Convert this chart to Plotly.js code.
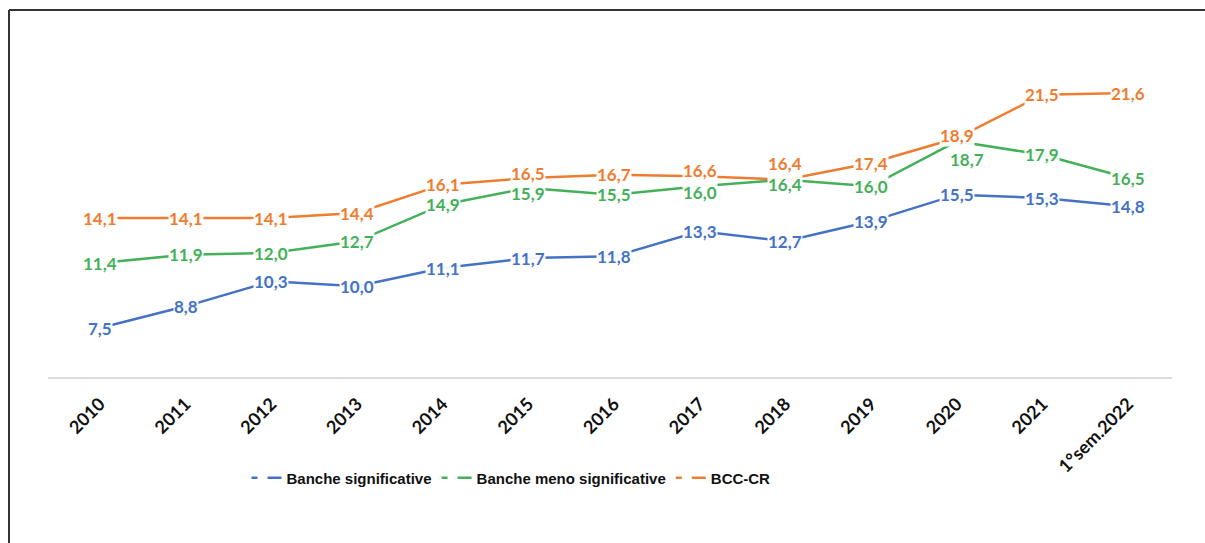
<!DOCTYPE html>
<html>
<head>
<meta charset="utf-8">
<script src="https://cdn.plot.ly/plotly-3.0.1.min.js"></script>
<style>
html,body{margin:0;padding:0;background:#fff;}
#chart{width:1205px;height:543px;}
</style>
</head>
<body>
<div id="chart"></div>
<script>
// ---- data ----
const categories = ["2010","2011","2012","2013","2014","2015","2016","2017","2018","2019","2020","2021","1°sem.2022"];
const seriesNames = ["Banche significative","Banche meno significative","BCC-CR"];
const bancheSignificative = [7.5, 8.8, 10.3, 10.0, 11.1, 11.7, 11.8, 13.3, 12.7, 13.9, 15.5, 15.3, 14.8];
const bancheMenoSignificative = [11.4, 11.9, 12.0, 12.7, 14.9, 15.9, 15.5, 16.0, 16.4, 16.0, 18.7, 17.9, 16.5];
const bccCr = [14.1, 14.1, 14.1, 14.4, 16.1, 16.5, 16.7, 16.6, 16.4, 17.4, 18.9, 21.5, 21.6];

// ---- styles ----
const colors = ["#4472C4", "#45B05A", "#ED7D31"];
const seriesValues = [bancheSignificative, bancheMenoSignificative, bccCr];
// label nudges (px) for crowded labels: [seriesIndex, categoryIndex, xshift, yshift]
const labelNudges = [
  [2, 5, 0, 5], [1, 5, 0, -5],
  [2, 7, 0, 6], [1, 7, 0, -6],
  [2, 8, 0, 16], [1, 8, 0, -5],
  [2, 10, 0, 3], [1, 10, 10, -18]
];

const W = 1205, H = 543;
const M = {l: 57, r: 34, t: 53, b: 165};
const pw = W - M.l - M.r, ph = H - M.t - M.b;
const px = x => (x - M.l) / pw;
const py = y => (H - M.b - y) / ph;

const fmt = v => v.toFixed(1).replace(".", ",");

const traces = [];
seriesValues.forEach((vals, s) => {
  traces.push({
    type: "scatter", mode: "lines",
    x: categories, y: vals,
    line: {color: colors[s], width: 2.5},
    showlegend: false, hoverinfo: "skip"
  });
});
// legend entries
seriesNames.forEach((name, s) => {
  traces.push({
    type: "scatter", mode: "lines", name: name,
    x: [null], y: [null],
    line: {color: colors[s], width: 2.5, dash: "6px,10px,14px"},
    showlegend: true
  });
});

const annotations = [];
seriesValues.forEach((vals, s) => {
  vals.forEach((v, i) => {
    let xs = 0, ys = 0;
    labelNudges.forEach(n => { if (n[0] === s && n[1] === i) { xs = n[2]; ys = n[3]; } });
    annotations.push({
      x: i, y: v, xref: "x", yref: "y",   // category index on the category axis
      text: fmt(v), showarrow: false,
      bgcolor: "rgba(255,255,255,0.92)", borderpad: 0,
      xshift: xs, yshift: ys,
      font: {family: "Lato, 'Open Sans', sans-serif", size: 17, color: colors[s], weight: "bold"}
    });
  });
});

const shapes = [
  // frame (top and left border)
  {type: "line", xref: "paper", yref: "paper", x0: px(9), x1: px(W + 5), y0: py(10), y1: py(10), line: {color: "#333", width: 2}},
  {type: "line", xref: "paper", yref: "paper", x0: px(9), x1: px(9), y0: py(10), y1: py(H + 5), line: {color: "#333", width: 2}},
  // category axis line
  {type: "line", xref: "paper", yref: "paper", x0: px(48), x1: px(1172), y0: 0, y1: 0, line: {color: "#dcd9d6", width: 2}, layer: "below"}
];

const layout = {
  width: W, height: H,
  margin: M,
  paper_bgcolor: "#fff", plot_bgcolor: "#fff",
  showlegend: true,
  xaxis: {
    type: "category", range: [-0.5, categories.length - 0.5],
    showgrid: false, zeroline: false, showline: false, ticks: "",
    tickangle: -45, ticklabelstandoff: 11,
    tickfont: {family: "Lato, 'Open Sans', sans-serif", size: 18, color: "#111", weight: "bold"},
    fixedrange: true
  },
  yaxis: {
    range: [4.5, 24], visible: false, showgrid: false, zeroline: false, fixedrange: true
  },
  legend: {
    orientation: "h", x: px(511), xanchor: "center", y: py(478), yanchor: "middle",
    font: {family: "'Liberation Sans', Arial, sans-serif", size: 15, color: "#111", weight: "bold"},
    itemwidth: 30, bgcolor: "rgba(0,0,0,0)", traceorder: "normal"
  },
  annotations: annotations,
  shapes: shapes
};

Plotly.newPlot("chart", traces, layout, {displayModeBar: false, staticPlot: true});
</script>
</body>
</html>
